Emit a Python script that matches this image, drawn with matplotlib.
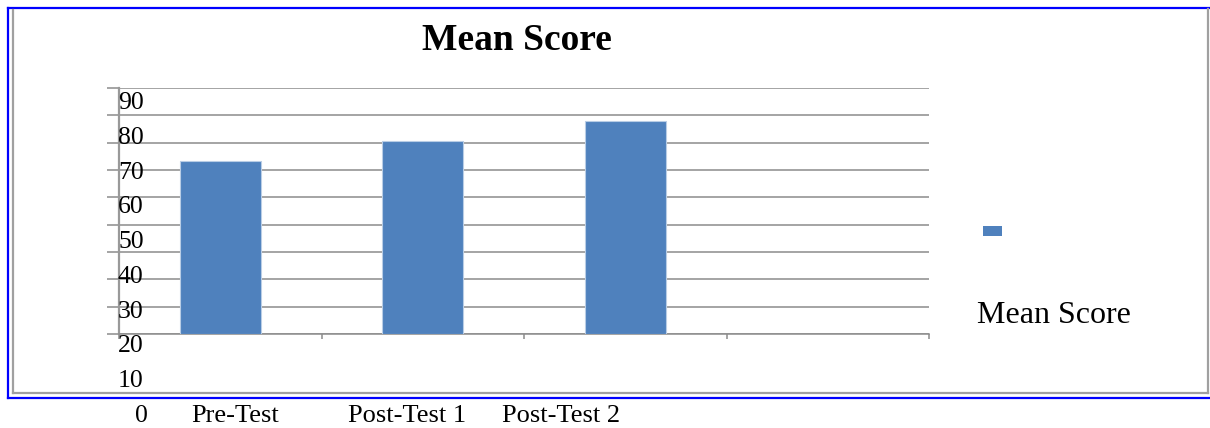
import matplotlib
matplotlib.use("Agg")
import matplotlib.pyplot as plt
from matplotlib.lines import Line2D
from matplotlib.patches import Rectangle
import numpy as np

plt.rcParams["font.family"] = ["Liberation Serif", "DejaVu Serif"]

# Data
categories = ["Pre-Test", "Post-Test 1", "Post-Test 2"]
mean_scores = [63.4, 70.5, 77.8]
n_slots = 4  # the chart reserves an empty 4th category slot
y_ticks = list(range(0, 100, 10))
y_tick_labels = [str(v) for v in y_ticks]
series_name = "Mean Score"
title = "Mean Score"

W, H = 1210, 428
BAR_COLOR = "#4F81BD"
GRID_COLOR = "#8C8C8C"


def fx(x):
    return x / W


def fy(y):
    return 1 - y / H


fig = plt.figure(figsize=(W / 100, H / 100), dpi=100)
fig.patch.set_facecolor("white")

left, right, top, bottom = 119, 929, 88, 334
ax = fig.add_axes([fx(left), fy(bottom), (right - left) / W, (bottom - top) / H])
ax.set_facecolor("white")

x = np.arange(len(categories))
ax.bar(x, mean_scores, width=0.4, color=BAR_COLOR, edgecolor="#B9CDE5", linewidth=0.8, zorder=3)

ax.set_xlim(-0.5, n_slots - 0.5)
ax.set_ylim(0, max(y_ticks))
ax.set_yticks(y_ticks)
ax.set_yticklabels([])
ax.tick_params(axis="y", direction="out", length=8.6, width=1.1, color=GRID_COLOR)
ax.set_xticks(np.arange(-0.5, n_slots, 1.0))
ax.set_xticklabels([])
ax.tick_params(axis="x", direction="out", length=3.8, width=1.1, color=GRID_COLOR)
ax.grid(axis="y", color=GRID_COLOR, linewidth=1.1, zorder=0)
ax.set_axisbelow(True)
for side in ("top", "right"):
    ax.spines[side].set_visible(False)
ax.spines["left"].set_color("#999999")
ax.spines["left"].set_linewidth(1.6)
ax.spines["bottom"].set_color(GRID_COLOR)
ax.spines["bottom"].set_linewidth(1.1)

# y labels are drawn out of place in the original, stacked down to the bottom row
label_baselines = np.linspace(109, 422, len(y_ticks))
for lab, yb in zip(reversed(y_tick_labels), label_baselines):
    xl = 135 if lab == "0" else 118
    fig.text(fx(xl), fy(yb), lab, fontsize=18.5, ha="left", va="baseline")

# category labels sit on the bottom row, outside the frame
cat_left = [191, 348, 502]
for lab, xl in zip(categories, cat_left):
    fig.text(fx(xl), fy(422), lab, fontsize=19, ha="left", va="baseline")

fig.text(fx(517), fy(50), title, fontsize=27, fontweight="bold", ha="center", va="baseline")

# legend: swatch and text placed apart as in the reference
fig.add_artist(Rectangle((fx(983), fy(236)), 19 / W, 10 / H, transform=fig.transFigure,
                         facecolor=BAR_COLOR, edgecolor="none"))
fig.text(fx(977), fy(323), series_name, fontsize=23, ha="left", va="baseline")

# frames: blue outer, gray inner
blue = dict(color="#0000FF", linewidth=1.6, transform=fig.transFigure)
fig.add_artist(Line2D([fx(8), fx(1210)], [fy(7.5), fy(7.5)], **blue))
fig.add_artist(Line2D([fx(8), fx(8)], [fy(7.5), fy(398)], **blue))
fig.add_artist(Line2D([fx(8), fx(1210)], [fy(398), fy(398)], **blue))
gray = dict(color="#A0A0A0", linewidth=1.6, transform=fig.transFigure)
fig.add_artist(Line2D([fx(13), fx(13)], [fy(10), fy(393)], **gray))
fig.add_artist(Line2D([fx(13), fx(1208)], [fy(393), fy(393)], **gray))
fig.add_artist(Line2D([fx(1208), fx(1208)], [fy(9), fy(393)], **gray))

fig.savefig("out.png", dpi=100)
plt.close(fig)
